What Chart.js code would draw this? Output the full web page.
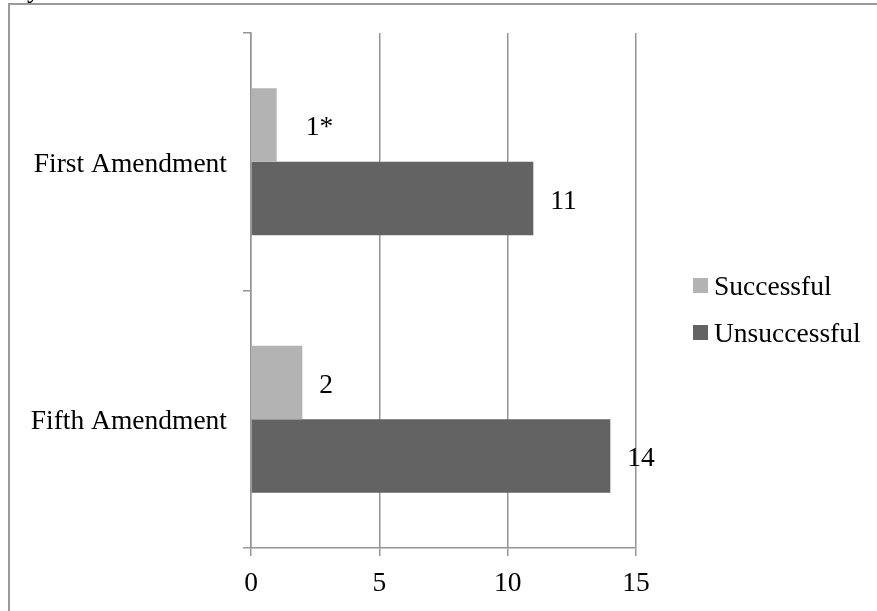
<!DOCTYPE html>
<html>
<head>
<meta charset="utf-8">
<script src="https://cdn.jsdelivr.net/npm/chart.js@4/dist/chart.umd.min.js"></script>
<style>
  html, body { margin: 0; padding: 0; background: #fff; overflow: hidden; }
  #wrap { position: relative; width: 877px; height: 611px; overflow: hidden; background: #fff; }
  canvas { position: absolute; left: 0; top: 0; }
  #frame { position: absolute; left: 8px; top: 3px; width: 900px; height: 700px;
           border: 2px solid #9a9a9a; box-sizing: border-box; pointer-events: none; }
  #caption { position: absolute; left: 27px; top: -27px; font: 27px "Liberation Serif", serif; color: #000; }
</style>
</head>
<body>
<div id="wrap">
  <canvas id="chart" width="877" height="611"></canvas>
  <div id="frame"></div>
  <div id="caption">y</div>
</div>
<script>
// Cases by constitutional ground
const categories = ['First Amendment', 'Fifth Amendment'];
const successful = [1, 2];
const unsuccessful = [11, 14];
const successfulLabels = ['1*', '2'];
const unsuccessfulLabels = ['11', '14'];
const xTicks = [0, 5, 10, 15];

const FONT = '"Liberation Serif", serif';
const LINE = '#959595';

// Value text to the right of each bar end
const valueLabels = {
  id: 'valueLabels',
  afterDatasetsDraw(chart) {
    const ctx = chart.ctx;
    ctx.save();
    ctx.font = '27.5px ' + FONT;
    ctx.fillStyle = '#000';
    ctx.textBaseline = 'middle';
    ctx.textAlign = 'left';
    chart.data.datasets.forEach((ds, di) => {
      chart.getDatasetMeta(di).data.forEach((bar, i) => {
        const text = ds.valueLabels[i];
        const gap = text.includes('*') ? 29 : 17;
        ctx.fillText(text, bar.x + gap, bar.y + 3);
      });
    });
    ctx.restore();
  }
};

// Legend block to the right of the plot
const sideLegend = {
  id: 'sideLegend',
  afterDraw(chart) {
    const ctx = chart.ctx;
    const x = chart.chartArea.right + 57;
    const mid = chart.height / 2 + 3.5;
    const rowGap = 47;
    const n = chart.data.datasets.length;
    ctx.save();
    ctx.font = '27.5px ' + FONT;
    ctx.textBaseline = 'middle';
    ctx.textAlign = 'left';
    chart.data.datasets.forEach((ds, i) => {
      const cy = mid + (i - (n - 1) / 2) * rowGap;
      ctx.fillStyle = ds.backgroundColor;
      ctx.fillRect(x, cy - 7.5, 15, 15);
      ctx.fillStyle = '#000';
      ctx.fillText(ds.label, x + 21, cy + 2);
    });
    ctx.restore();
  }
};

function draw() {
  new Chart(document.getElementById('chart'), {
    type: 'bar',
    data: {
      labels: categories,
      datasets: [
        { label: 'Successful', data: successful, valueLabels: successfulLabels,
          backgroundColor: '#b3b3b3', borderWidth: 0 },
        { label: 'Unsuccessful', data: unsuccessful, valueLabels: unsuccessfulLabels,
          backgroundColor: '#636363', borderWidth: 0 }
      ]
    },
    options: {
      indexAxis: 'y',
      responsive: false,
      animation: false,
      maintainAspectRatio: false,
      categoryPercentage: 0.571,
      barPercentage: 1,
      layout: { padding: { left: 0, top: 33, right: 241, bottom: 0 } },
      plugins: {
        legend: { display: false },
        tooltip: { enabled: false }
      },
      scales: {
        x: {
          min: 0,
          max: 15,
          afterBuildTicks: s => { s.ticks = xTicks.map(v => ({ value: v })); },
          afterFit: s => { s.height = 63; },
          grid: { color: LINE, lineWidth: 1.5, tickLength: 8, drawTicks: true },
          border: { display: true, color: LINE, width: 1.5 },
          ticks: { color: '#000', padding: 14, font: { family: FONT, size: 27.5, lineHeight: 1 } }
        },
        y: {
          afterFit: s => { s.width = 251; },
          grid: { drawOnChartArea: false, offset: true, color: LINE, lineWidth: 1.5, tickLength: 8 },
          border: { display: true, color: LINE, width: 1.5 },
          ticks: { color: '#000', padding: 16, labelOffset: 3, font: { family: FONT, size: 27.5, lineHeight: 1 } }
        }
      }
    },
    plugins: [valueLabels, sideLegend]
  });
}

if (document.fonts && document.fonts.load) {
  document.fonts.load('27.5px "Liberation Serif"').then(draw, draw);
} else {
  draw();
}
</script>
</body>
</html>
